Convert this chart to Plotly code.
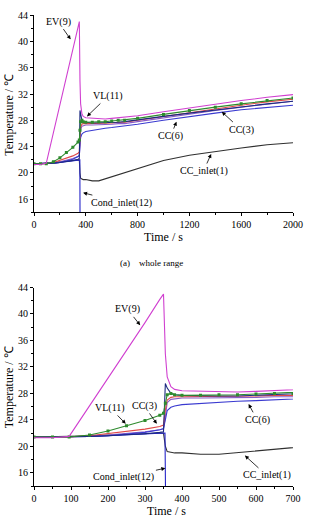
import plotly.graph_objects as go

# ---------------- data ----------------
time_s = [0, 50, 95, 150, 200, 250, 300, 340, 350, 355, 360, 370, 380, 400, 450,
          500, 550, 600, 650, 700, 800, 1000, 1200, 1400, 1600, 1800, 2000]

ev9 = [21.3, 21.3, 21.5, 26.1, 30.4, 34.4, 38.7, 42.2, 43.0, 34.0, 30.5, 29.0, 28.6, 28.4, 28.3,
       28.2, 28.2, 28.3, 28.4, 28.5, 28.7, 29.3, 29.9, 30.5, 31.0, 31.5, 31.9]
vl11 = [21.4, 21.4, 21.4, 21.7, 22.3, 23.1, 23.9, 24.7, 25.0, 26.5, 27.8, 28.0, 27.8, 27.7, 27.7,
        27.8, 27.8, 27.9, 28.0, 28.0, 28.3, 28.9, 29.5, 30.0, 30.5, 31.0, 31.4]
navy = [21.4, 21.4, 21.4, 21.5, 21.6, 21.7, 21.9, 22.1, 22.2, 29.5, 28.8, 28.0, 27.8, 27.7, 27.6,
        27.6, 27.6, 27.7, 27.7, 27.8, 28.1, 28.6, 29.1, 29.6, 30.1, 30.5, 30.9]
cc3 = [21.4, 21.4, 21.4, 21.6, 21.9, 22.2, 22.6, 23.0, 23.2, 25.5, 27.0, 27.4, 27.5, 27.5, 27.5,
       27.5, 27.6, 27.6, 27.7, 27.7, 28.0, 28.6, 29.2, 29.8, 30.3, 30.8, 31.2]
purple = [21.4, 21.4, 21.4, 21.5, 21.7, 21.9, 22.2, 22.5, 22.6, 24.5, 26.6, 27.1, 27.2, 27.3, 27.3,
          27.3, 27.4, 27.4, 27.5, 27.5, 27.8, 28.4, 29.0, 29.5, 30.0, 30.5, 30.9]
cc6 = [21.4, 21.4, 21.4, 21.5, 21.6, 21.8, 22.1, 22.5, 22.7, 24.0, 25.4, 25.9, 26.1, 26.3, 26.5,
       26.6, 26.8, 26.9, 27.0, 27.1, 27.4, 28.0, 28.6, 29.1, 29.6, 30.0, 30.3]
cc_inlet1 = [21.4, 21.4, 21.5, 21.6, 21.7, 21.8, 21.9, 22.0, 22.0, 20.0, 19.2, 19.1, 19.0, 19.0, 18.8,
             18.8, 19.1, 19.4, 19.7, 20.0, 20.7, 21.9, 22.7, 23.3, 23.8, 24.3, 24.6]

cond_time = [0, 50, 100, 150, 200, 250, 300, 340, 350, 354, 356]
cond_inlet12 = [21.4, 21.4, 21.4, 21.5, 21.6, 21.7, 21.8, 21.9, 22.0, 22.0, 10.0]

x_ticks_top = [0, 400, 800, 1200, 1600, 2000]
x_ticks_bot = [0, 100, 200, 300, 400, 500, 600, 700]
y_ticks = [16, 20, 24, 28, 32, 36, 40, 44]

# ---------------- figure ----------------
SERIF = "Liberation Serif, Times New Roman, serif"
series = [
    (time_s, cc_inlet1, "#303030", None),
    (cond_time, cond_inlet12, "#2424c8", None),
    (time_s, purple, "#8a5cc8", None),
    (time_s, cc6, "#3a3ad0", None),
    (time_s, cc3, "#e04848", None),
    (time_s, navy, "#1c2a80", None),
    (time_s, vl11, "#2e8b2e", "square"),
    (time_s, ev9, "#d040d0", None),
]

fig = go.Figure()
for xa, ya in (("x", "y"), ("x2", "y2")):
    for tx, vy, col, sym in series:
        fig.add_trace(go.Scatter(
            x=tx, y=vy, xaxis=xa, yaxis=ya,
            mode="lines+markers" if sym else "lines",
            line=dict(color=col, width=1.1),
            marker=dict(symbol=sym or "circle", size=3, color=col),
            showlegend=False, hoverinfo="skip"))

axis_common = dict(showline=True, linecolor="black", linewidth=1, mirror=False,
                   showgrid=False, zeroline=False, ticks="outside", ticklen=3,
                   tickcolor="black", tickwidth=1,
                   tickfont=dict(family=SERIF, size=10, color="black"))

fig.update_layout(
    width=312, height=527,
    margin=dict(l=34, r=9, t=9, b=41),
    paper_bgcolor="white", plot_bgcolor="white",
    xaxis=dict(domain=[0, 1], range=[0, 2000], tickvals=x_ticks_top, anchor="y",
               minor=dict(ticks="outside", ticklen=2, dtick=200, tick0=0, tickcolor="black"),
               **axis_common),
    yaxis=dict(domain=[0.5807, 1], range=[14, 44], tickvals=y_ticks, anchor="x",
               minor=dict(ticks="outside", ticklen=2, dtick=2, tick0=0, tickcolor="black"),
               **axis_common),
    xaxis2=dict(domain=[0, 1], range=[0, 700], tickvals=x_ticks_bot, anchor="y2",
                minor=dict(ticks="outside", ticklen=2, dtick=50, tick0=0, tickcolor="black"),
                **axis_common),
    yaxis2=dict(domain=[0, 0.4214], range=[14, 44], tickvals=y_ticks, anchor="x2",
                minor=dict(ticks="outside", ticklen=2, dtick=2, tick0=0, tickcolor="black"),
                **axis_common),
)

labels_top = [
    ("EV(9)", 283, 40.3, 186, 43.0),
    ("VL(11)", 409, 28.6, 573, 31.7),
    ("CC(6)", 1100, 27.8, 1056, 25.6),
    ("CC(3)", 1450, 29.3, 1599, 26.6),
    ("CC_inlet(1)", 1368, 22.9, 1309, 20.3),
    ("Cond_inlet(12)", 379, 17.0, 677, 15.5),
]
labels_bot = [
    ("EV(9)", 287, 38.3, 253, 40.7),
    ("VL(11)", 248, 23.4, 206, 25.8),
    ("CC(3)", 332, 23.4, 298, 26.1),
    ("CC(6)", 580, 26.4, 603, 24.0),
    ("CC_inlet(1)", 570, 18.6, 629, 15.6),
    ("Cond_inlet(12)", 355, 16.7, 243, 15.3),
]
for (labels, xr, yr) in ((labels_top, "x", "y"), (labels_bot, "x2", "y2")):
    for txt, x0, y0, tx, ty in labels:
        fig.add_annotation(text=txt, x=x0, y=y0, xref=xr, yref=yr,
                           ax=tx, ay=ty, axref=xr, ayref=yr,
                           showarrow=True, arrowhead=2, arrowsize=1, arrowwidth=0.8,
                           arrowcolor="black",
                           font=dict(family=SERIF, size=10, color="black"))

# pixel positions -> paper coords relative to plot area
W, H = 312, 527
L, R, T, B = 34, 9, 9, 41
def add_px(txt, px, py, size, angle=0):
    fig.add_annotation(text=txt, x=(px - L) / (W - L - R), y=(H - B - py) / (H - T - B),
                       xref="paper", yref="paper", showarrow=False, textangle=angle,
                       xanchor="center", yanchor="middle",
                       font=dict(family=SERIF, size=size, color="black"))

add_px("Temperature / \u2103", 8, 110, 12, -90)
add_px("Temperature / \u2103", 8, 386, 12, -90)
add_px("Time / s", 168, 234, 12)
add_px("Time / s", 172, 511, 12)
add_px("(a)\u00a0\u00a0\u00a0\u00a0whole range", 156, 260, 9)

fig.write_html("out.html")
